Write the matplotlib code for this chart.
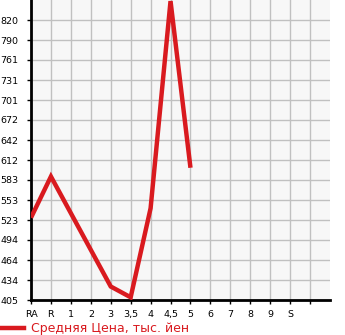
import matplotlib
matplotlib.use("Agg")
import matplotlib.pyplot as plt
import numpy as np

x_labels = ["RA", "R", "1", "2", "3", "3,5", "4", "4,5", "5", "6", "7", "8", "9", "S", ""]
y_ticks = [405, 434, 464, 494, 523, 553, 583, 612, 642, 672, 701, 731, 761, 790, 820]
series_cats = ["RA", "R", "3", "3,5", "4", "4,5", "5"]
series_vals = [527, 588, 425, 409, 541, 848, 601]

fig = plt.figure(figsize=(3.45, 3.35), dpi=100)
ax = fig.add_axes([31/345, 35/335, 299/345, 300/335])
ax.set_facecolor("#f7f7f7")

xpos = [x_labels.index(c) for c in series_cats]
ax.plot(xpos, series_vals, color="#d91a1f", lw=3.2, solid_capstyle="butt", solid_joinstyle="miter", clip_on=True, zorder=3)

ax.set_xlim(0, 15)
step = (y_ticks[-1] - y_ticks[0]) / (len(y_ticks) - 1)
ax.set_ylim(y_ticks[0], y_ticks[-1] + step)
ax.set_xticks(range(len(x_labels)))
ax.set_xticklabels(x_labels, fontsize=6.8)
ax.set_yticks(y_ticks)
ax.set_yticklabels([str(v) for v in y_ticks], fontsize=6.8, ha="left")
ax.tick_params(axis="y", pad=19.2, length=3, width=1, direction="out")
ax.tick_params(axis="x", length=3, width=1, pad=4)
ax.grid(True, color="#c0c0c0", lw=1)
ax.set_axisbelow(True)
for s in ["top", "right"]:
    ax.spines[s].set_visible(False)
ax.spines["left"].set_linewidth(2)
ax.spines["bottom"].set_linewidth(2)

fig.legend(handles=[plt.Line2D([], [], color="#d91a1f", lw=3.2)], labels=["Средняя Цена, тыс. йен"],
           loc="lower left", bbox_to_anchor=(0.0, 0.0), borderaxespad=0.0, borderpad=0.0,
           frameon=False, fontsize=9,
           labelcolor="#d91a1f", handlelength=1.9, handletextpad=0.6)

fig.savefig("out.png", dpi=100)
